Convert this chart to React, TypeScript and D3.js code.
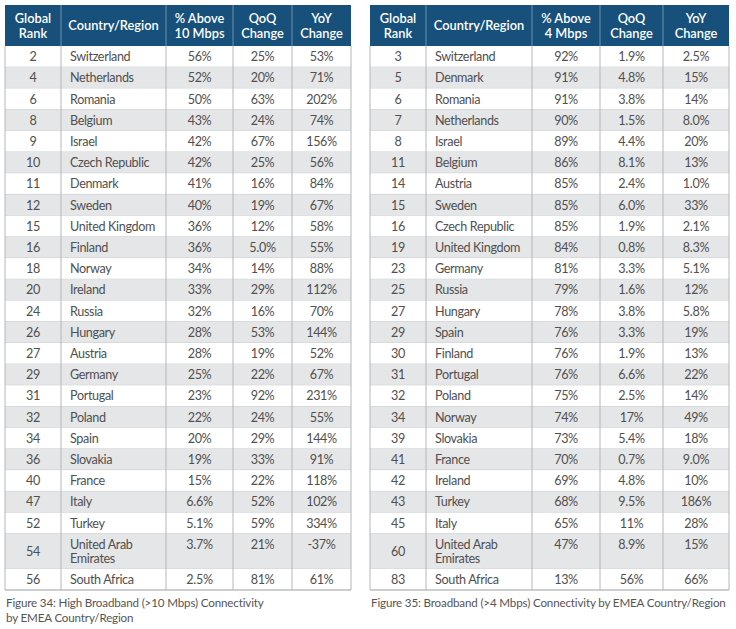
import React from "react";
import * as d3 from "d3";

// ---------- Data ----------
const leftHeaders = [["Global", "Rank"], ["Country/Region"], ["% Above", "10 Mbps"], ["QoQ", "Change"], ["YoY", "Change"]];
const leftRanks = ["2", "4", "6", "8", "9", "10", "11", "12", "15", "16", "18", "20", "24", "26", "27", "29", "31", "32", "34", "36", "40", "47", "52", "54", "56"];
const leftCountries = ["Switzerland", "Netherlands", "Romania", "Belgium", "Israel", "Czech Republic", "Denmark", "Sweden", "United Kingdom", "Finland", "Norway", "Ireland", "Russia", "Hungary", "Austria", "Germany", "Portugal", "Poland", "Spain", "Slovakia", "France", "Italy", "Turkey", "United Arab Emirates", "South Africa"];
const leftAbove = ["56%", "52%", "50%", "43%", "42%", "42%", "41%", "40%", "36%", "36%", "34%", "33%", "32%", "28%", "28%", "25%", "23%", "22%", "20%", "19%", "15%", "6.6%", "5.1%", "3.7%", "2.5%"];
const leftQoQ = ["25%", "20%", "63%", "24%", "67%", "25%", "16%", "19%", "12%", "5.0%", "14%", "29%", "16%", "53%", "19%", "22%", "92%", "24%", "29%", "33%", "22%", "52%", "59%", "21%", "81%"];
const leftYoY = ["53%", "71%", "202%", "74%", "156%", "56%", "84%", "67%", "58%", "55%", "88%", "112%", "70%", "144%", "52%", "67%", "231%", "55%", "144%", "91%", "118%", "102%", "334%", "-37%", "61%"];
const leftCaption = ["Figure 34: High Broadband (>10 Mbps) Connectivity", "by EMEA Country/Region"];

const rightHeaders = [["Global", "Rank"], ["Country/Region"], ["% Above", "4 Mbps"], ["QoQ", "Change"], ["YoY", "Change"]];
const rightRanks = ["3", "5", "6", "7", "8", "11", "14", "15", "16", "19", "23", "25", "27", "29", "30", "31", "32", "34", "39", "41", "42", "43", "45", "60", "83"];
const rightCountries = ["Switzerland", "Denmark", "Romania", "Netherlands", "Israel", "Belgium", "Austria", "Sweden", "Czech Republic", "United Kingdom", "Germany", "Russia", "Hungary", "Spain", "Finland", "Portugal", "Poland", "Norway", "Slovakia", "France", "Ireland", "Turkey", "Italy", "United Arab Emirates", "South Africa"];
const rightAbove = ["92%", "91%", "91%", "90%", "89%", "86%", "85%", "85%", "85%", "84%", "81%", "79%", "78%", "76%", "76%", "76%", "75%", "74%", "73%", "70%", "69%", "68%", "65%", "47%", "13%"];
const rightQoQ = ["1.9%", "4.8%", "3.8%", "1.5%", "4.4%", "8.1%", "2.4%", "6.0%", "1.9%", "0.8%", "3.3%", "1.6%", "3.8%", "3.3%", "1.9%", "6.6%", "2.5%", "17%", "5.4%", "0.7%", "4.8%", "9.5%", "11%", "8.9%", "56%"];
const rightYoY = ["2.5%", "15%", "14%", "8.0%", "20%", "13%", "1.0%", "33%", "2.1%", "8.3%", "5.1%", "12%", "5.8%", "19%", "13%", "22%", "14%", "49%", "18%", "9.0%", "10%", "186%", "28%", "15%", "66%"];
const rightCaption = ["Figure 35: Broadband (>4 Mbps) Connectivity by EMEA Country/Region"];

// ---------- Style ----------
const HEADER_BG = "#17507a";
const STRIPE = "#e5e6e7";
const GRID_H = "#c9cbcd";
const GRID_V = "#b4b6b8";
const TEXT = "#505050";
const FONT = "Lato, 'Open Sans', sans-serif";

const HEADER_TOP = 5;
const HEADER_BOTTOM = 46;
const TABLE_BOTTOM = 590;

type TableProps = {
  edges: number[];
  headers: string[][];
  cols: string[][];
  caption: string[];
};

function wrapName(name: string): string[] {
  return name === "United Arab Emirates" ? ["United Arab", "Emirates"] : [name];
}

function Table({ edges, headers, cols, caption }: TableProps) {
  const [ranks, countries, above, qoq, yoy] = cols;
  const units = countries.map((c) => (wrapName(c).length > 1 ? 1.65 : 1));
  const cum = [0];
  units.forEach((u) => cum.push(cum[cum.length - 1] + u));
  const y = d3.scaleLinear().domain([0, cum[cum.length - 1]]).range([HEADER_BOTTOM, TABLE_BOTTOM]);
  const x0 = edges[0];
  const x1 = edges[edges.length - 1];
  const colCenter = (i: number) => (edges[i] + edges[i + 1]) / 2;

  return (
    <g>
      {/* header */}
      <rect x={x0} y={HEADER_TOP} width={x1 - x0} height={HEADER_BOTTOM - HEADER_TOP} fill={HEADER_BG} />
      {headers.map((lines, i) => {
        const cy = (HEADER_TOP + HEADER_BOTTOM) / 2;
        const lh = 15;
        return (
          <text key={"h" + i} x={colCenter(i)} textAnchor="middle" fill="#fff" fontFamily={FONT} fontSize={12.8} fontWeight={600} letterSpacing={0}>
            {lines.map((l, k) => (
              <tspan key={k} x={colCenter(i)} y={cy + (k - (lines.length - 1) / 2) * lh + 4.5}>
                {l}
              </tspan>
            ))}
          </text>
        );
      })}
      {edges.slice(1, -1).map((e, i) => (
        <line key={"hv" + i} x1={e} x2={e} y1={HEADER_TOP} y2={HEADER_BOTTOM} stroke="#6a91ad" strokeWidth={1} />
      ))}
      {/* rows */}
      {countries.map((c, i) => {
        const top = y(cum[i]);
        const bot = y(cum[i + 1]);
        const mid = (top + bot) / 2;
        const nameLines = wrapName(c);
        const multi = nameLines.length > 1;
        const firstY = multi ? mid - 7 : mid;
        return (
          <g key={"r" + i} fontFamily={FONT} fontSize={12.6} fill={TEXT} letterSpacing={-0.35}>
            <rect x={x0} y={top} width={x1 - x0} height={bot - top} fill={i % 2 === 1 ? STRIPE : "#fff"} />
            <line x1={x0} x2={x1} y1={bot} y2={bot} stroke={GRID_H} strokeWidth={1} />
            <text x={colCenter(0)} y={mid + 4.5} textAnchor="middle">{ranks[i]}</text>
            <text x={edges[1] + 9}>
              {nameLines.map((l, k) => (
                <tspan key={k} x={edges[1] + 9} y={firstY + k * 14 + 4.5}>{l}</tspan>
              ))}
            </text>
            <text x={colCenter(2)} y={firstY + 4.5} textAnchor="middle">{above[i]}</text>
            <text x={colCenter(3)} y={firstY + 4.5} textAnchor="middle">{qoq[i]}</text>
            <text x={colCenter(4)} y={firstY + 4.5} textAnchor="middle">{yoy[i]}</text>
          </g>
        );
      })}
      {edges.map((e, i) => (
        <line key={"v" + i} x1={e} x2={e} y1={HEADER_BOTTOM} y2={TABLE_BOTTOM} stroke={GRID_V} strokeWidth={1} />
      ))}
      <line x1={x0} x2={x1} y1={TABLE_BOTTOM} y2={TABLE_BOTTOM} stroke={GRID_V} />
      {/* caption */}
      <text fontFamily={FONT} fontSize={11.6} fill="#555" letterSpacing={-0.15}>
        {caption.map((l, k) => (
          <tspan key={k} x={x0 + 1} y={607 + k * 15}>{l}</tspan>
        ))}
      </text>
    </g>
  );
}

export default function App() {
  return (
    <svg width={736} height={629} style={{ position: "absolute", left: 0, top: 0, background: "#fff" }}>
      <rect width={736} height={629} fill="#fff" />
      <Table
        edges={[5, 61, 166, 233, 292, 351]}
        headers={leftHeaders}
        cols={[leftRanks, leftCountries, leftAbove, leftQoQ, leftYoY]}
        caption={leftCaption}
      />
      <Table
        edges={[370, 426, 532, 600, 663, 729]}
        headers={rightHeaders}
        cols={[rightRanks, rightCountries, rightAbove, rightQoQ, rightYoY]}
        caption={rightCaption}
      />
    </svg>
  );
}
